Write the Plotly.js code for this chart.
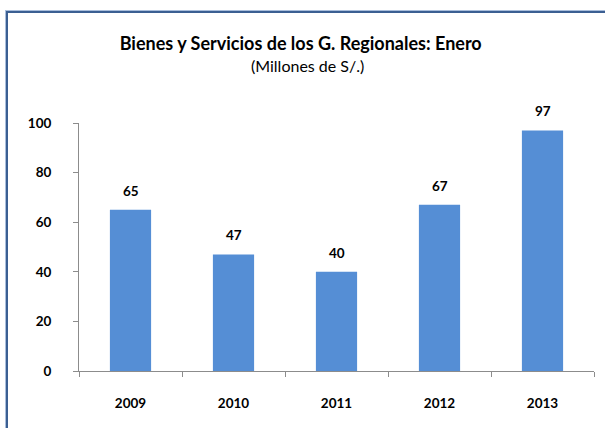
<!DOCTYPE html>
<html>
<head>
<meta charset="utf-8">
<script src="https://cdn.plot.ly/plotly-3.0.1.min.js"></script>
<style>
  html, body { margin: 0; padding: 0; background: #ffffff; }
  #wrap { position: relative; width: 605px; height: 428px; overflow: hidden; }
  #chart { position: absolute; left: 0; top: 0; width: 605px; height: 428px; }
  #frame { position: absolute; left: 6px; top: 11px; width: 620px; height: 440px;
           border-left: 2px solid #3B5F92; border-top: 2px solid #3B5F92;
           box-shadow: -1px -1px 0 #A9BEDC; pointer-events: none; }
</style>
</head>
<body>
<div id="wrap">
  <div id="chart"></div>
  <div id="frame"></div>
</div>
<script>
const categories = ['2009', '2010', '2011', '2012', '2013'];
const values = [65, 47, 40, 67, 97];
const valueLabels = ['65', '47', '40', '67', '97'];
const yTicks = [0, 20, 40, 60, 80, 100];
const titleText = 'Bienes y Servicios de los G. Regionales: Enero';
const subtitleText = '(Millones de S/.)';

const FONT = 'Lato, "Open Sans", sans-serif';

const trace = {
  type: 'bar',
  x: categories,
  y: values,
  marker: { color: '#558ED5', line: { width: 0 } },
  hoverinfo: 'none'
};

const annotations = categories.map((c, i) => ({
  x: i, y: values[i], xref: 'x', yref: 'y',
  text: '<b>' + valueLabels[i] + '</b>',
  showarrow: false, yanchor: 'bottom', yshift: 9,
  font: { family: FONT, size: 13.5, color: '#000000' }
}));
annotations.push({
  xref: 'paper', yref: 'paper', x: 0.444, y: 1, yshift: 58,
  text: subtitleText, showarrow: false, xanchor: 'center', yanchor: 'middle',
  font: { family: FONT, size: 16, color: '#000000' }
});

const layout = {
  width: 605, height: 428,
  paper_bgcolor: '#ffffff', plot_bgcolor: '#ffffff',
  margin: { l: 79, r: 11, t: 123, b: 57, pad: 0 },
  showlegend: false,
  bargap: 0.6,
  title: {
    text: '<b>' + titleText + '</b>',
    x: 0.497, xanchor: 'center', xref: 'container',
    y: 0.897, yanchor: 'middle', yref: 'container',
    font: { family: FONT, size: 18, color: '#000000' }
  },
  xaxis: {
    type: 'category',
    range: [-0.5, 4.5],
    showline: true, linecolor: '#8C8C8C', linewidth: 1,
    ticks: 'outside', tickson: 'boundaries', ticklen: 5, tickcolor: '#8C8C8C',
    showgrid: false, zeroline: false, tickangle: 0,
    tickfont: { family: FONT, size: 13.5, color: '#000000', weight: 'bold' },
    ticklabelstandoff: 20
  },
  yaxis: {
    range: [0, 100],
    tickvals: yTicks, ticktext: yTicks.map(String),
    showline: true, linecolor: '#8C8C8C', linewidth: 1,
    ticks: 'outside', ticklen: 5, tickcolor: '#8C8C8C',
    showgrid: false, zeroline: false,
    tickfont: { family: FONT, size: 13.5, color: '#000000', weight: 'bold' },
    ticklabelstandoff: 19
  },
  annotations: annotations
};

Plotly.newPlot('chart', [trace], layout, { displayModeBar: false, staticPlot: true });
</script>
</body>
</html>
